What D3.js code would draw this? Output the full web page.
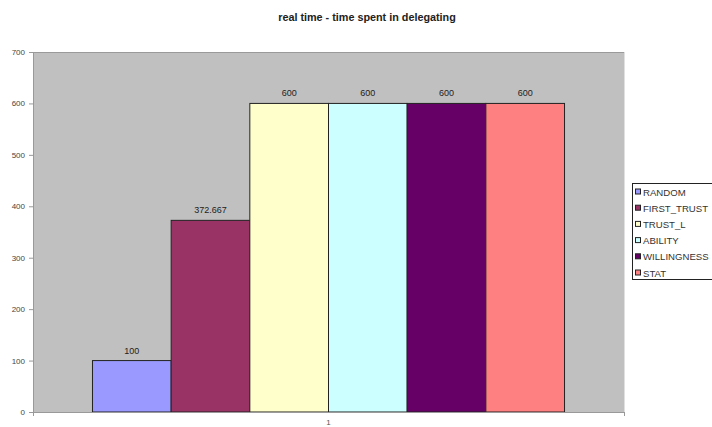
<!DOCTYPE html>
<html>
<head>
<meta charset="utf-8">
<script src="https://cdn.jsdelivr.net/npm/d3@7"></script>
<style>
  html, body { margin: 0; padding: 0; background: #fff; }
  svg { display: block; font-family: Arial, "Liberation Sans", sans-serif; }
</style>
</head>
<body>
<svg id="chart" width="712" height="427"></svg>
<script>
// Chart data
const title = "real time - time spent in delegating";
const categories = ["1"];
const seriesNames = ["RANDOM", "FIRST_TRUST", "TRUST_L", "ABILITY", "WILLINGNESS", "STAT"];
const seriesValues = [100, 372.667, 600, 600, 600, 600];
const seriesColors = ["#9999ff", "#993366", "#ffffcc", "#ccffff", "#660066", "#ff8080"];
const yTicks = [0, 100, 200, 300, 400, 500, 600, 700];

const svg = d3.select("#chart");
const plot = { left: 33, right: 624, top: 52, bottom: 412 };

// Scales
const y = d3.scaleLinear().domain([0, 700]).range([plot.bottom, plot.top]);
const x0 = d3.scaleBand().domain(categories).range([plot.left, plot.right])
  .paddingInner(0).paddingOuter(0.126);
const x1 = d3.scaleBand().domain(seriesNames).range([0, x0.bandwidth()]).padding(0);

// Title
svg.append("text")
  .attr("x", 367).attr("y", 21)
  .attr("text-anchor", "middle")
  .attr("font-size", 10.8).attr("font-weight", "bold").attr("fill", "#222")
  .text(title);

// Plot area background
svg.append("rect")
  .attr("x", plot.left).attr("y", plot.top)
  .attr("width", plot.right - plot.left).attr("height", plot.bottom - plot.top)
  .attr("fill", "#c0c0c0");
svg.append("line")
  .attr("x1", plot.left).attr("x2", plot.right)
  .attr("y1", plot.top + 0.5).attr("y2", plot.top + 0.5)
  .attr("stroke", "#9a9a9a");
svg.append("line")
  .attr("x1", plot.right + 0.5).attr("x2", plot.right + 0.5)
  .attr("y1", plot.top).attr("y2", plot.bottom)
  .attr("stroke", "#e0e0e0");

// Bars
const group = svg.append("g");
categories.forEach(cat => {
  seriesNames.forEach((name, i) => {
    const v = seriesValues[i];
    const bx = x0(cat) + x1(name);
    group.append("rect")
      .attr("x", bx).attr("y", y(v))
      .attr("width", x1.bandwidth()).attr("height", y(0) - y(v))
      .attr("fill", seriesColors[i])
      .attr("stroke", "#222").attr("stroke-width", 1);
    group.append("text")
      .attr("x", bx + x1.bandwidth() / 2).attr("y", y(v) - 7)
      .attr("text-anchor", "middle")
      .attr("font-size", 9).attr("fill", "#222")
      .text(String(v));
  });
});

// Y axis
const yAxis = svg.append("g")
  .attr("transform", `translate(${plot.left},0)`)
  .call(d3.axisLeft(y).tickValues(yTicks).tickSize(4).tickPadding(4).tickFormat(d3.format("d")));
yAxis.select(".domain").attr("stroke", "#999");
yAxis.selectAll(".tick line").attr("stroke", "#999");
yAxis.selectAll(".tick text").attr("font-size", 8).attr("fill", "#444")
  .attr("font-family", "Arial, 'Liberation Sans', sans-serif");

// X axis
const xAxis = svg.append("g")
  .attr("transform", `translate(0,${plot.bottom})`)
  .call(d3.axisBottom(x0).tickSize(0).tickPadding(7));
xAxis.select(".domain").attr("stroke", "#999");
xAxis.selectAll(".tick text").attr("font-size", 8).attr("fill", "#555")
  .attr("font-family", "Arial, 'Liberation Sans', sans-serif");
[plot.left, plot.right].forEach(px => {
  xAxis.append("line")
    .attr("x1", px + 0.5).attr("x2", px + 0.5)
    .attr("y1", 0).attr("y2", 4)
    .attr("stroke", "#999");
});

// Legend
const legend = svg.append("g").attr("transform", "translate(632,183)");
legend.append("rect")
  .attr("x", 0.5).attr("y", 0.5).attr("width", 90).attr("height", 96)
  .attr("fill", "#fff").attr("stroke", "#222");
seriesNames.forEach((name, i) => {
  const ly = 9 + i * 16.2;
  legend.append("rect")
    .attr("x", 3.5).attr("y", ly - 3).attr("width", 5).attr("height", 5)
    .attr("fill", seriesColors[i]).attr("stroke", "#222").attr("stroke-width", 1);
  legend.append("text")
    .attr("x", 11).attr("y", ly + 3.5)
    .attr("font-size", 9.6).attr("fill", "#333")
    .text(name);
});
</script>
</body>
</html>
